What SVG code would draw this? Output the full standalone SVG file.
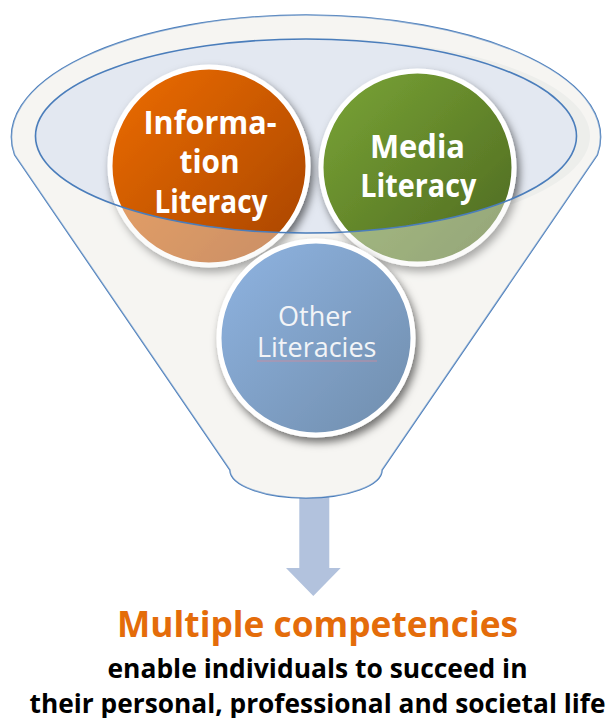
<svg xmlns="http://www.w3.org/2000/svg" width="606" height="718" viewBox="0 0 606 718">
  <defs>
    <linearGradient id="gOrange" x1="0" y1="0" x2="1" y2="1">
      <stop offset="0" stop-color="#ee6d06"/>
      <stop offset="1" stop-color="#a64400"/>
    </linearGradient>
    <linearGradient id="gGreen" x1="0" y1="0" x2="1" y2="1">
      <stop offset="0" stop-color="#7aa535"/>
      <stop offset="1" stop-color="#4d6821"/>
    </linearGradient>
    <linearGradient id="gBlue" x1="0" y1="0" x2="1" y2="1">
      <stop offset="0" stop-color="#8fb4e2"/>
      <stop offset="1" stop-color="#708dac"/>
    </linearGradient>
    <filter id="shadow" x="-20%" y="-20%" width="150%" height="150%">
      <feDropShadow dx="3" dy="5" stdDeviation="4" flood-color="#000" flood-opacity="0.55"/>
    </filter>
  </defs>
  <style>
    .outline { stroke: #4a7dbb; stroke-width: 1.6; }
    .disc { stroke: #ffffff; stroke-width: 5; filter: url(#shadow); }
    .lbl { font-family: "Open Sans", "Liberation Sans", sans-serif; font-weight: bold; font-size: 32px; fill: #ffffff; text-anchor: middle; }
    .lbl2 { font-family: "Open Sans", "Liberation Sans", sans-serif; font-size: 27px; fill: #f2f4f7; text-anchor: middle; }
    .cap { font-family: "Open Sans", "Liberation Sans", sans-serif; font-weight: bold; text-anchor: middle; }
  </style>
  <rect width="606" height="718" fill="#ffffff"/>

  <g id="connectors">
    <path d="M299.3,490 L329.3,490 L329.3,568 L340.7,568 L313.3,596 L286,568 L299.3,568 Z" fill="#b2c2dd"/>
  </g>

  <g id="funnel">
    <path class="outline" d="M14.7,155 A294.5 122 0 1 1 597.3,155 L382,470 A76 28 0 0 1 230,470 Z" fill="#f6f5f2"/>
    <ellipse cx="312" cy="136" rx="278" ry="98" fill="#e7e8e6"/>
    <ellipse cx="306" cy="136" rx="270.5" ry="97" fill="#e3e8f1"/>
  </g>

  <g id="node-information">
    <circle class="disc" cx="209" cy="166" r="99" fill="url(#gOrange)"/>
    <text class="lbl" x="210" y="133.5" textLength="133" lengthAdjust="spacingAndGlyphs">Informa-</text>
    <text class="lbl" x="209.5" y="173" textLength="60" lengthAdjust="spacingAndGlyphs">tion</text>
    <text class="lbl" x="211" y="212.5" textLength="113" lengthAdjust="spacingAndGlyphs">Literacy</text>
  </g>

  <g id="node-media">
    <circle class="disc" cx="417.5" cy="167.5" r="96.5" fill="url(#gGreen)"/>
    <text class="lbl" x="417.5" y="157.5" textLength="95" lengthAdjust="spacingAndGlyphs">Media</text>
    <text class="lbl" x="418.3" y="197" textLength="116" lengthAdjust="spacingAndGlyphs">Literacy</text>
  </g>

  <g id="funnel-rim">
    <path d="M14.7,155 A294.5 122 0 1 1 597.3,155 L382,470 A76 28 0 0 1 230,470 Z M35.5,136 A270.5 97 0 1 0 576.5,136 A270.5 97 0 1 0 35.5,136 Z" fill="#f6f5f2" fill-opacity="0.42" fill-rule="evenodd"/>
    <ellipse class="outline" cx="306" cy="136" rx="270.5" ry="97" fill="none"/>
  </g>

  <g id="node-other">
    <circle class="disc" cx="316" cy="338" r="97" fill="url(#gBlue)"/>
    <text class="lbl2" x="314.7" y="326">Other</text>
    <text class="lbl2" x="316.7" y="356.5">Literacies</text>
    <line x1="257" y1="361" x2="377" y2="361" stroke="#d38a9b" stroke-width="1" opacity="0.8"/>
  </g>

  <g id="caption">
    <text class="cap" x="317.6" y="636.5" font-size="35" fill="#e46c0a" textLength="401" lengthAdjust="spacingAndGlyphs">Multiple competencies</text>
    <text class="cap" x="317.5" y="678.3" font-size="27" fill="#000000" textLength="420" lengthAdjust="spacingAndGlyphs">enable individuals to succeed in</text>
    <text class="cap" x="317.5" y="713.3" font-size="27" fill="#000000" textLength="576" lengthAdjust="spacingAndGlyphs">their personal, professional and societal life</text>
  </g>
</svg>
